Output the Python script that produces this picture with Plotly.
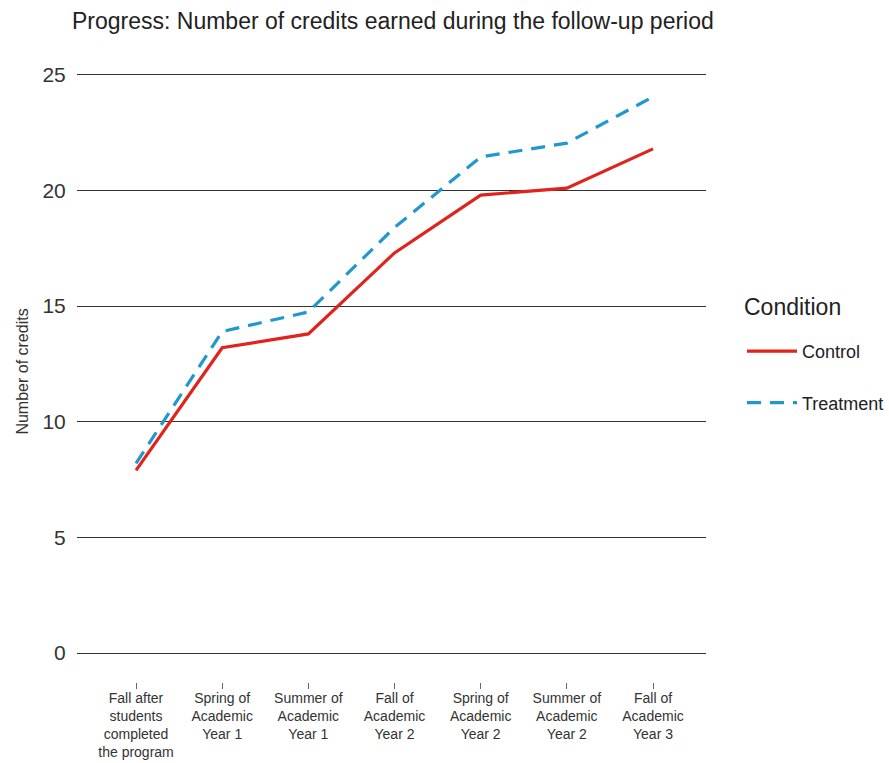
import plotly.graph_objects as go

categories = [
    "Fall after<br>students<br>completed<br>the program",
    "Spring of<br>Academic<br>Year 1",
    "Summer of<br>Academic<br>Year 1",
    "Fall of<br>Academic<br>Year 2",
    "Spring of<br>Academic<br>Year 2",
    "Summer of<br>Academic<br>Year 2",
    "Fall of<br>Academic<br>Year 3",
]
control = [7.9, 13.2, 13.8, 17.3, 19.8, 20.1, 21.8]
treatment = [8.2, 13.9, 14.75, 18.4, 21.45, 22.05, 24.05]
y_ticks = [0, 5, 10, 15, 20, 25]

FONT = "Liberation Sans, Arial, Helvetica, sans-serif"
x_idx = list(range(len(categories)))

fig = go.Figure()
fig.add_trace(go.Scatter(
    x=x_idx, y=control, mode="lines", name="Control", legendgroup="c",
    line=dict(color="#e0231c", width=3.2),
))
fig.add_trace(go.Scatter(
    x=x_idx, y=treatment, mode="lines", name="Treatment", legendgroup="t",
    line=dict(color="#1f98cf", width=3.2, dash="14px,9px"),
))

W, H = 889, 763
L, R = 77, 706
T, B = 61, 682
Y_LO, Y_HI = -1.254, 25.6
fig.update_layout(
    width=W, height=H,
    margin=dict(l=L, r=W - R, t=T, b=H - B, autoexpand=False),
    paper_bgcolor="white", plot_bgcolor="white",
    font=dict(family=FONT, color="#222"),
    title=dict(
        text="Progress: Number of credits earned during the follow-up period",
        x=72 / W, xref="container", xanchor="left",
        y=1 - 21 / H, yref="container", yanchor="middle",
        font=dict(size=23, color="#222", family=FONT),
    ),
    showlegend=True,
    legend=dict(
        font=dict(size=18, color="#222"),
        x=(742 - L) / (R - L), xanchor="left",
        y=(B - 333) / (B - T), yanchor="top",
        tracegroupgap=25,
        itemwidth=50,
        bgcolor="rgba(0,0,0,0)",
    ),
    annotations=[dict(
        text="Condition", xref="paper", yref="paper",
        x=(742 - L) / (R - L), xanchor="left",
        y=(B - 307) / (B - T), yanchor="middle",
        showarrow=False, font=dict(size=23, color="#222"),
    )],
    xaxis=dict(
        range=[-0.685, 6.615], automargin=False,
        tickmode="array", tickvals=x_idx, ticktext=categories,
        showgrid=False, zeroline=False, showline=False,
        ticks="outside", ticklen=6, tickcolor="#666", tickwidth=1,
        ticklabelstandoff=-3,
        tickfont=dict(size=14, color="#333"),
    ),
    yaxis=dict(
        range=[Y_LO, Y_HI], automargin=False,
        tickmode="array", tickvals=y_ticks,
        showgrid=True, gridcolor="#333", gridwidth=1,
        zeroline=False, showline=False,
        ticks="outside", ticklen=6, tickcolor="rgba(0,0,0,0)",
        tickfont=dict(size=21, color="#333"),
        title=dict(text="Number of credits", font=dict(size=16, color="#333"), standoff=9),
    ),
)

fig.write_html("out.html", config={"displayModeBar": False},
               post_script="document.body.style.margin='0';")
